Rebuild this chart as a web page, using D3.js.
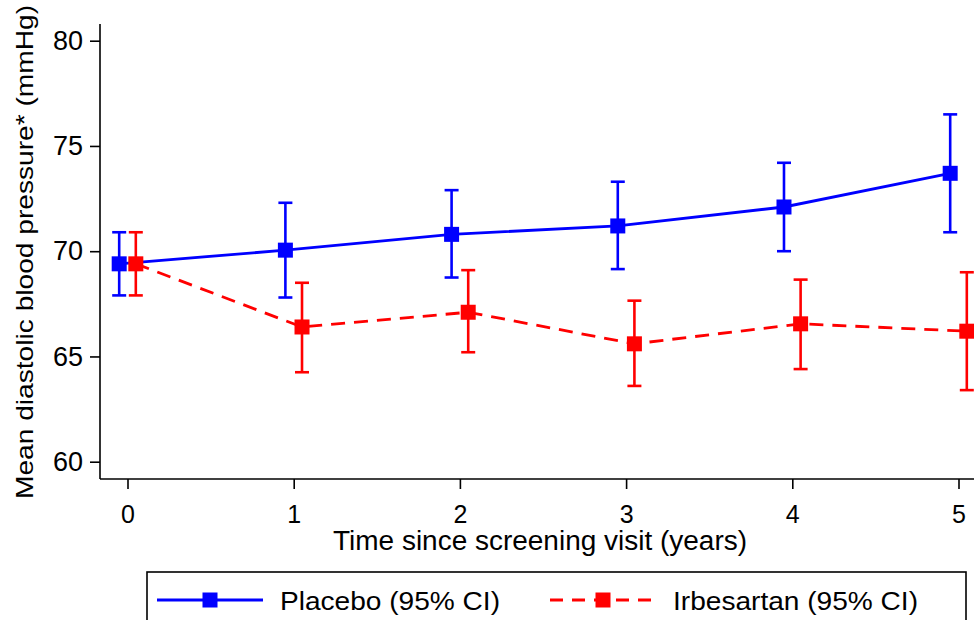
<!DOCTYPE html>
<html>
<head>
<meta charset="utf-8">
<script src="https://cdn.jsdelivr.net/npm/d3@7"></script>
<style>
  body { margin: 0; background: #fff; }
  svg { font-family: "Liberation Sans", Arial, sans-serif; }
</style>
</head>
<body>
<div id="chart"></div>
<script>
// data
const years = [0, 1, 2, 3, 4, 5];
const placeboMean = [69.4, 70.05, 70.8, 71.2, 72.1, 73.7];
const placeboLow  = [67.9, 67.8, 68.75, 69.15, 70.0, 70.9];
const placeboHigh = [70.9, 72.3, 72.9, 73.3, 74.2, 76.5];
const irbMean = [69.4, 66.4, 67.1, 65.6, 66.55, 66.2];
const irbLow  = [67.9, 64.25, 65.2, 63.6, 64.4, 63.4];
const irbHigh = [70.9, 68.5, 69.1, 67.65, 68.65, 69.0];
const yTicks = [60, 65, 70, 75, 80];

const width = 974, height = 620;
const margin = {left: 100, top: 24, right: 16, bottom: 141};

const svg = d3.select('#chart').append('svg')
  .attr('width', width)
  .attr('height', height);

// scales
const x = d3.scaleLinear([0, 5], [127.5, 958.5]);
const y = d3.scaleLinear([60, 80], [461.7, 40.7]);
const axisY0 = height - margin.bottom; // x axis line

const series = [
  {name: 'Placebo (95% CI)', color: '#0000ff', dash: null, offset: -0.05,
   mean: placeboMean, low: placeboLow, high: placeboHigh},
  {name: 'Irbesartan (95% CI)', color: '#ff0000', dash: '14,9', offset: 0.05,
   mean: irbMean, low: irbLow, high: irbHigh}
];

// axes
const gx = svg.append('g').attr('transform', `translate(0, ${axisY0})`);
gx.call(d3.axisBottom(x).tickValues(years).tickFormat(d3.format('d'))
  .tickSize(10).tickSizeOuter(0).tickPadding(16));
gx.select('.domain').attr('d', `M${margin.left},0H${width}`);
gx.selectAll('.tick text').attr('font-size', 25);

const gy = svg.append('g').attr('transform', `translate(${margin.left}, 0)`);
gy.call(d3.axisLeft(y).tickValues(yTicks).tickSize(10).tickSizeOuter(0).tickPadding(7));
gy.select('.domain').attr('d', `M0,${margin.top}V${axisY0}`);
gy.selectAll('.tick text').attr('font-size', 27);

svg.selectAll('.domain, .tick line').attr('stroke', '#000').attr('stroke-width', 1.6);
svg.selectAll('.tick text').attr('fill', '#000')
  .attr('font-family', '"Liberation Sans", Arial, sans-serif');

// axis titles
svg.append('text')
  .attr('x', 540)
  .attr('y', 550)
  .attr('text-anchor', 'middle')
  .attr('font-size', 27)
  .attr('textLength', 414)
  .attr('lengthAdjust', 'spacingAndGlyphs')
  .text('Time since screening visit (years)');

svg.append('text')
  .attr('transform', `translate(33, 252) rotate(-90)`)
  .attr('text-anchor', 'middle')
  .attr('font-size', 24)
  .attr('textLength', 494)
  .attr('lengthAdjust', 'spacingAndGlyphs')
  .text('Mean diastolic blood pressure* (mmHg)');

// series
const line = d3.line();
const cap = 7, half = 7.5;

series.forEach(s => {
  const g = svg.append('g');
  const pts = years.map((t, i) => ({t: t + s.offset, m: s.mean[i], lo: s.low[i], hi: s.high[i]}));

  g.append('path')
    .attr('d', line(pts.map(p => [x(p.t), y(p.m)])))
    .attr('fill', 'none')
    .attr('stroke', s.color)
    .attr('stroke-width', 2.8)
    .attr('stroke-dasharray', s.dash);

  // error bars
  const eb = g.selectAll('g.eb').data(pts).join('g').attr('class', 'eb')
    .attr('stroke', s.color).attr('stroke-width', 2.6);
  eb.append('line')
    .attr('x1', d => x(d.t)).attr('x2', d => x(d.t))
    .attr('y1', d => y(d.lo)).attr('y2', d => y(d.hi));
  eb.append('line')
    .attr('x1', d => x(d.t) - cap).attr('x2', d => x(d.t) + cap)
    .attr('y1', d => y(d.lo)).attr('y2', d => y(d.lo));
  eb.append('line')
    .attr('x1', d => x(d.t) - cap).attr('x2', d => x(d.t) + cap)
    .attr('y1', d => y(d.hi)).attr('y2', d => y(d.hi));

  g.selectAll('rect').data(pts).join('rect')
    .attr('x', d => x(d.t) - half).attr('y', d => y(d.m) - half)
    .attr('width', half * 2).attr('height', half * 2)
    .attr('fill', s.color);
});

// legend
const legend = svg.append('g');
legend.append('rect')
  .attr('x', 147).attr('y', 572).attr('width', 819).attr('height', 60)
  .attr('fill', '#fff').attr('stroke', '#000').attr('stroke-width', 1.6);

const legX = [157, 550];
const legTextW = [220, 245];
series.forEach((s, i) => {
  const lg = legend.append('g').attr('transform', `translate(${legX[i]}, 600)`);
  lg.append('line')
    .attr('x1', 0).attr('x2', 106).attr('y1', 0).attr('y2', 0)
    .attr('stroke', s.color).attr('stroke-width', 2.8)
    .attr('stroke-dasharray', s.dash ? '13,9' : null);
  lg.append('rect')
    .attr('x', 53 - half).attr('y', -half).attr('width', half * 2).attr('height', half * 2)
    .attr('fill', s.color);
  lg.append('text')
    .attr('x', 123).attr('y', 10)
    .attr('font-size', 26)
    .attr('textLength', legTextW[i])
    .attr('lengthAdjust', 'spacingAndGlyphs')
    .text(s.name);
});
</script>
</body>
</html>
